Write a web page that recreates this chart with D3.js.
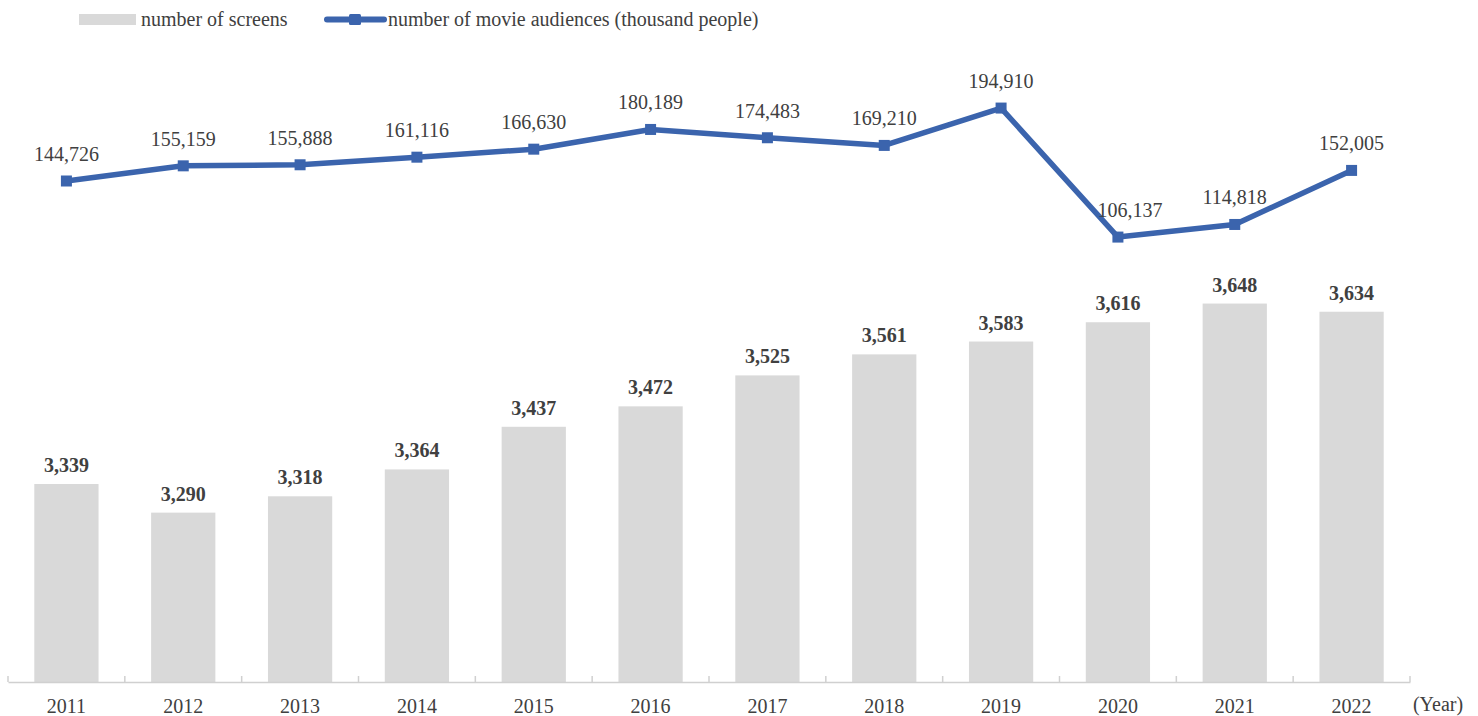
<!DOCTYPE html>
<html lang="en">
<head>
  <meta charset="UTF-8">
  <title>Screens and movie audiences</title>
  <script src="https://d3js.org/d3.v7.min.js"></script>
  <style>
    body { margin: 0; background: #fff; }
    text { font-family: "Liberation Serif", "Times New Roman", serif; fill: #404040; }
  </style>
</head>
<body>
  <svg id="chart" width="1478" height="716"></svg>
  <script>
    const years = ["2011", "2012", "2013", "2014", "2015", "2016", "2017", "2018", "2019", "2020", "2021", "2022"];
    const screens = [3339, 3290, 3318, 3364, 3437, 3472, 3525, 3561, 3583, 3616, 3648, 3634];
    const audiences = [144726, 155159, 155888, 161116, 166630, 180189, 174483, 169210, 194910, 106137, 114818, 152005];

    const svg = d3.select("#chart");
    const left = 8, right = 1410, bottom = 682;
    const blue = "#3b64ad";

    const x = d3.scaleBand().domain(years).range([left, right]).paddingInner(0.45).paddingOuter(0.225);
    const yBar = d3.scaleLinear().domain([3000, 4000]).range([bottom, 98]);
    const yLine = d3.scaleLinear().domain([-200000, 250000]).range([bottom, 28]);
    const fmt = d3.format(",");

    // bars
    svg.selectAll(".bar")
      .data(screens)
      .enter()
      .append("rect")
      .attr("x", (d, i) => x(years[i]))
      .attr("y", d => yBar(d))
      .attr("width", x.bandwidth())
      .attr("height", d => bottom - yBar(d))
      .attr("fill", "#d9d9d9");

    svg.selectAll(".barLabel")
      .data(screens)
      .enter()
      .append("text")
      .attr("x", (d, i) => x(years[i]) + x.bandwidth() / 2)
      .attr("y", d => yBar(d) - 12)
      .attr("text-anchor", "middle")
      .style("font-size", "20px")
      .style("font-weight", "bold")
      .text(d => fmt(d));

    // x axis
    const axis = svg.append("g").attr("transform", `translate(0,${bottom})`)
      .call(d3.axisBottom(x).tickSize(0).tickPadding(17));
    axis.select(".domain").attr("stroke", "#d0d0d0").attr("stroke-width", 1.5);
    axis.selectAll("text").style("font-size", "20px").style("font-family", "Liberation Serif").attr("fill", "#404040");
    const step = x.step();
    d3.range(years.length + 1).forEach(i => {
      axis.append("line")
        .attr("x1", left + i * step).attr("x2", left + i * step)
        .attr("y1", 0).attr("y2", -6)
        .attr("stroke", "#d0d0d0").attr("stroke-width", 1.5);
    });
    svg.append("text")
      .attr("x", 1438).attr("y", 711)
      .attr("text-anchor", "middle")
      .style("font-size", "20px")
      .text("(Year)");

    // line
    const cx = i => x(years[i]) + x.bandwidth() / 2;
    const line = d3.line().x((d, i) => cx(i)).y(d => yLine(d));
    svg.append("path")
      .datum(audiences)
      .attr("d", line)
      .attr("fill", "none")
      .attr("stroke", blue)
      .attr("stroke-width", 5.5)
      .attr("stroke-linejoin", "round");

    svg.selectAll(".marker")
      .data(audiences)
      .enter()
      .append("rect")
      .attr("x", (d, i) => cx(i) - 5.5)
      .attr("y", d => yLine(d) - 5.5)
      .attr("width", 11)
      .attr("height", 11)
      .attr("fill", blue);

    svg.selectAll(".lineLabel")
      .data(audiences)
      .enter()
      .append("text")
      .attr("x", (d, i) => cx(i) + (i === 9 ? 12 : 0))
      .attr("y", d => yLine(d) - 20)
      .attr("text-anchor", "middle")
      .style("font-size", "20px")
      .text(d => fmt(d));

    // legend
    const legend = svg.append("g");
    legend.append("rect").attr("x", 79).attr("y", 14).attr("width", 57).attr("height", 11).attr("fill", "#d9d9d9");
    legend.append("text").attr("x", 141).attr("y", 26).style("font-size", "20px").text("number of screens");
    legend.append("line").attr("x1", 327).attr("x2", 384).attr("y1", 19.5).attr("y2", 19.5)
      .attr("stroke", blue).attr("stroke-width", 6).attr("stroke-linecap", "round");
    legend.append("rect").attr("x", 349).attr("y", 14).attr("width", 12).attr("height", 11).attr("rx", 1.5).attr("fill", blue);
    legend.append("text").attr("x", 388).attr("y", 26).style("font-size", "20px").text("number of movie audiences (thousand people)");
  </script>
</body>
</html>
